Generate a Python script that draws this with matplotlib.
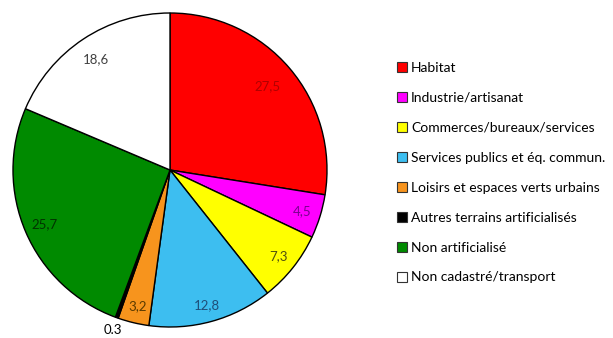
import matplotlib
matplotlib.use("Agg")
import matplotlib.pyplot as plt
import numpy as np
from matplotlib.patches import Patch

categories = ["Habitat", "Industrie/artisanat", "Commerces/bureaux/services",
              "Services publics et éq. commun.", "Loisirs et espaces verts urbains",
              "Autres terrains artificialisés", "Non artificialisé", "Non cadastré/transport"]
values = [27.5, 4.5, 7.3, 12.8, 3.2, 0.3, 25.7, 18.6]
value_labels = ["27,5", "4,5", "7,3", "12,8", "3,2", "0.3", "25,7", "18,6"]

colors = ["#FF0000", "#FF00FF", "#FFFF00", "#3DBEF0", "#F7941D", "#000000", "#008A00", "#FFFFFF"]
label_colors = ["#B00000", "#7A0090", "#505010", "#1F4E79", "#5A3A00", "#000000", "#003300", "#404040"]
label_dist = [0.82, 0.88, 0.88, 0.89, 0.89, 1.08, 0.87, 0.85]

plt.rcParams['font.family'] = ['Lato', 'DejaVu Sans']

fig = plt.figure(figsize=(6.13, 3.38), dpi=100)
W, H = 613, 338
cx, cy, r = 170, 170, 157
ax = fig.add_axes([(cx - r) / W, (H - cy - r) / H, 2 * r / W, 2 * r / H])

wedges, _ = ax.pie(values, colors=colors, startangle=90, counterclock=False,
                   wedgeprops=dict(edgecolor="black", linewidth=1.0))
ax.set_xlim(-1, 1)
ax.set_ylim(-1, 1)
ax.set_aspect("equal")
ax.axis("off")

for w, lab, c, d in zip(wedges, value_labels, label_colors, label_dist):
    ang = np.deg2rad((w.theta1 + w.theta2) / 2)
    ax.text(d * np.cos(ang), d * np.sin(ang), lab, ha="center", va="center",
            fontsize=9.5, color=c, clip_on=False)

handles = [Patch(facecolor=c, edgecolor="#333333", linewidth=0.8) for c in colors]
fig.legend(handles, categories, loc="upper left", bbox_to_anchor=(397 / W, 1 - 62 / H),
           frameon=False, fontsize=10, handlelength=0.72, handleheight=0.72,
           handletextpad=0.3, labelspacing=1.29, borderpad=0, borderaxespad=0)

fig.savefig("out.png", dpi=100)
